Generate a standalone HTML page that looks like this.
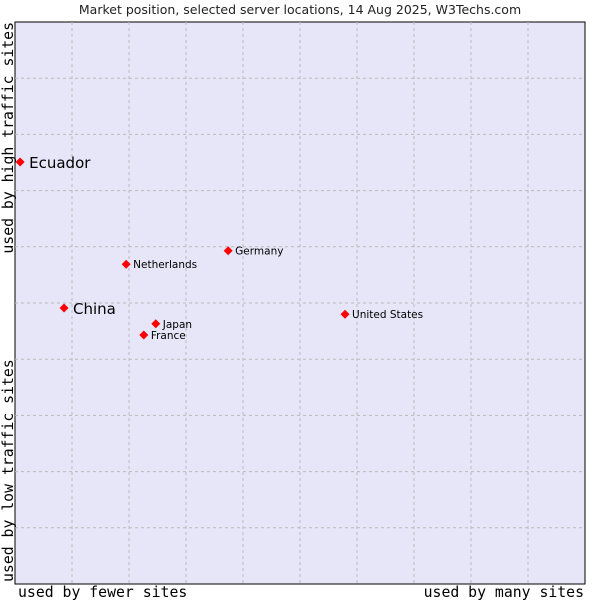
<!DOCTYPE html>
<html><head><meta charset="utf-8"><style>
body{margin:0;background:#fff;width:600px;height:600px;overflow:hidden}
svg{display:block}
</style></head><body>
<svg width="600" height="600" font-family="'DejaVu Sans', sans-serif">
<text x="300" y="14" text-anchor="middle" font-size="12.5" fill="#222">Market position, selected server locations, 14 Aug 2025, W3Techs.com</text>
<rect x="15" y="22" width="570" height="562" fill="#e6e6f8" stroke="#000" stroke-width="1"/>
<g id="grid"></g>
<g id="pts"></g>
<text x="18" y="597" font-family="'DejaVu Sans Mono', monospace" font-size="14.8" fill="#000">used by fewer sites</text>
<text x="584" y="597" text-anchor="end" font-family="'DejaVu Sans Mono', monospace" font-size="14.8" fill="#000">used by many sites</text>
<text transform="translate(13,582) rotate(-90)" font-family="'DejaVu Sans Mono', monospace" font-size="14.8" fill="#000">used by low traffic sites</text>
<text transform="translate(13,22) rotate(-90)" text-anchor="end" font-family="'DejaVu Sans Mono', monospace" font-size="14.8" fill="#000">used by high traffic sites</text>
</svg>
<script>
const names=["Ecuador","China","Netherlands","Germany","Japan","France","United States"];
const xVals=[0.9,8.6,19.5,37.4,24.7,22.6,57.9];
const yVals=[75.1,49.1,56.9,59.3,46.3,44.3,48.0];
const big=[true,true,false,false,false,false,false];
const L=15,T=22,W=570,H=562;
const sx=v=>L+v/100*W, sy=v=>T+H-v/100*H;
const ns="http://www.w3.org/2000/svg";
const g=document.getElementById('grid');
for(let i=1;i<10;i++){
  const a=document.createElementNS(ns,'line');
  a.setAttribute('x1',sx(i*10));a.setAttribute('x2',sx(i*10));a.setAttribute('y1',T);a.setAttribute('y2',T+H);
  a.setAttribute('stroke','#bbb');a.setAttribute('stroke-dasharray','3,3');
  
  
  g.appendChild(a);
  const b=document.createElementNS(ns,'line');
  b.setAttribute('y1',sy(i*10));b.setAttribute('y2',sy(i*10));b.setAttribute('x1',L);b.setAttribute('x2',L+W);
  b.setAttribute('stroke','#bbb');b.setAttribute('stroke-dasharray','3,3');
  
  
  g.appendChild(b);
}
const p=document.getElementById('pts');
names.forEach((n,i)=>{
  const x=sx(xVals[i]),y=sy(yVals[i]);
  const d=document.createElementNS(ns,'path');
  d.setAttribute('d',`M${x-4.5},${y}L${x},${y-4.5}L${x+4.5},${y}L${x},${y+4.5}Z`);
  d.setAttribute('fill','#f00');
  
  
  p.appendChild(d);
  const t=document.createElementNS(ns,'text');
  t.setAttribute('x',x+(big[i]?9:7));t.setAttribute('y',y+(big[i]?6:4));
  t.setAttribute('font-size',big[i]?'15':'10.5');t.setAttribute('fill','#000');
  t.textContent=n;
  
  
  p.appendChild(t);
});
</script>
</body></html>
